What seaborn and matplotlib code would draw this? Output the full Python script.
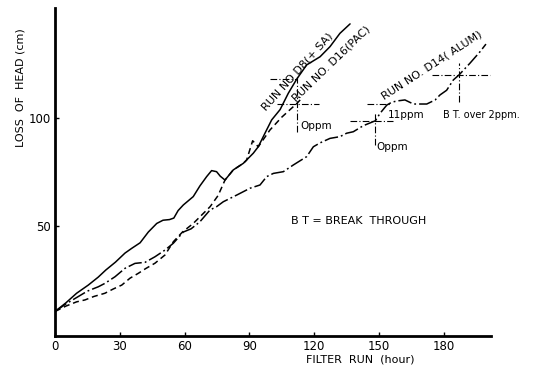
import matplotlib
matplotlib.use("Agg")
import matplotlib.pyplot as plt
import seaborn as sns
import pandas as pd

# ---- data ----
d8_hours = [0, 5, 10, 15.4, 20, 23.5, 28, 32.4, 35.5, 39.4, 43.2, 47.1, 50, 53, 55, 57,
            59.4, 64, 67.1, 70.2, 72.5, 74.8, 76.5, 78.7, 82.5, 87.2, 91.8, 94.1, 97.2,
            100.3, 104.2, 108, 111.9, 116.5, 122.7, 127.3, 131.9, 136.6]
d8_loss = [10, 14, 18.5, 22.3, 26, 29.3, 33, 37.2, 39.4, 42, 47, 51, 52.5, 52.8, 53.5, 57,
           59.6, 63.5, 68.5, 72.8, 75.6, 75.1, 73, 71.2, 75.9, 79, 83.7, 86.7, 93,
           99.2, 104, 111.6, 118.2, 124.8, 128.6, 133.3, 139.5, 143.9]

d16_hours = [0, 5, 10, 13.9, 18, 23.1, 27, 30.9, 34.7, 38.6, 42, 46.3, 50.9, 54.8, 59, 64,
             68, 71.8, 75.5, 78.7, 82.5, 87.2, 88.7, 91.5, 94.1, 99.5, 105, 112, 113.5]
d16_loss = [10, 12.5, 14.5, 15.4, 17, 18.5, 20.5, 22.3, 25.5, 27.8, 30, 32.5, 36.3, 42.5, 47, 51,
            55, 58.8, 64, 71.2, 75.9, 79, 80.5, 89.5, 86.7, 94.5, 100.5, 106.9, 108.5]

d14_hours = [0, 5, 10, 15, 20, 23.1, 27.8, 32.4, 37, 41.7, 46.3, 50.9, 54.8, 59.4, 63, 67.1,
             71.8, 74.8, 77.9, 84.1, 90.3, 94.9, 98, 101.1, 105.7, 110.3, 116.5, 119.6,
             122.7, 127.3, 131.9, 135, 138.1, 142.7, 148.3, 150.5, 153.6, 156, 158.9, 162,
             165.9, 172.1, 176, 178.2, 181.3, 184.4, 187, 192.1, 196.8, 199.5]
d14_loss = [10, 13.5, 16.5, 19.5, 21.5, 23.1, 26.2, 30.1, 32.4, 32.9, 35.5, 38.6, 41.8, 47, 48.5, 51.8,
            57.3, 58.8, 61.1, 64.2, 67.4, 68.9, 72.8, 74.3, 75.1, 78.2, 82.1, 86.7,
            88.5, 90.6, 91.4, 93, 93.7, 96.5, 98.8, 102.3, 106.1, 107.5, 108.1, 108.5,
            106.6, 106.6, 108.5, 110.8, 113, 117.8, 120.1, 125.6, 131, 134.5]

x_ticks = [0, 30, 60, 90, 120, 150, 180]
y_ticks = [50, 100]

sns.set_theme(style="white")
plt.rcParams['font.family'] = ['DejaVu Sans']
plt.rcParams['text.color'] = 'black'
plt.rcParams['xtick.color'] = 'black'
plt.rcParams['ytick.color'] = 'black'
plt.rcParams['axes.labelcolor'] = 'black'

fig = plt.figure(figsize=(5.33, 3.66), dpi=100)
ax = fig.add_axes([55/533, 30/366, 435.7/533, 328/366])

df8 = pd.DataFrame({"hour": d8_hours, "loss": d8_loss})
df16 = pd.DataFrame({"hour": d16_hours, "loss": d16_loss})
df14 = pd.DataFrame({"hour": d14_hours, "loss": d14_loss})

sns.lineplot(data=df8, x="hour", y="loss", ax=ax, color="black", lw=1.1,
             estimator=None, sort=False)
sns.lineplot(data=df16, x="hour", y="loss", ax=ax, color="black", lw=1.1,
             estimator=None, sort=False)
sns.lineplot(data=df14, x="hour", y="loss", ax=ax, color="black", lw=1.1,
             estimator=None, sort=False)
lines = ax.get_lines()
lines[1].set_dashes([4, 2.5])
lines[2].set_dashes([9, 2, 1.2, 2])

# break-through crosshairs
ch = dict(color="black", lw=0.8, dashes=[6, 2, 1, 2])
ax.plot([99.5, 112], [118.2, 118.2], **ch)
ax.plot([103, 122], [106.8, 106.8], **ch)
ax.plot([112, 112], [93.7, 120], **ch)
ax.plot([136.6, 156.5], [98.6, 98.6], **ch)
ax.plot([148.3, 148.3], [87.5, 103], **ch)
ax.plot([144.3, 155.1], [106.5, 106.5], **ch)
ax.plot([174.5, 201.5], [120.1, 120.1], **ch)
ax.plot([187, 187], [107.7, 125.6], **ch)

fs = 8
ax.text(112.3, 121.6, "RUN NO D8(+ SA)", rotation=48, ha="center", va="center", fontsize=fs)
ax.text(127.7, 125.6, "RUN NO. D16(PAC)", rotation=44, ha="center", va="center", fontsize=fs)
ax.text(174.4, 124.8, "RUN NO. D14( ALUM)", rotation=33, ha="center", va="center", fontsize=fs)
ax.text(113.4, 96.5, "Oppm", ha="left", va="center", fontsize=7.5)
ax.text(154.2, 101.5, "11ppm", ha="left", va="center", fontsize=7.5)
ax.text(148.9, 86.7, "Oppm", ha="left", va="center", fontsize=7.5)
ax.text(179.8, 101.5, "B T. over 2ppm.", ha="left", va="center", fontsize=7, clip_on=False)
ax.text(109.4, 52.1, "B T = BREAK  THROUGH", ha="left", va="center", fontsize=8)

ax.set_xlim(0, 201.7)
ax.set_ylim(-1.4, 151.3)
ax.set_xticks(x_ticks)
ax.set_xticklabels([str(t) for t in x_ticks], fontsize=8.5)
ax.set_yticks(y_ticks)
ax.set_yticklabels([str(t) for t in y_ticks], fontsize=8.5)
ax.tick_params(axis="both", direction="in", length=3, width=1, color="black", pad=3,
               left=True, bottom=True, labelcolor="black")
ax.set_xlabel("")
ax.set_ylabel("")
ax.text(-0.08, 0.756, "LOSS  OF  HEAD (cm)", rotation=90, transform=ax.transAxes,
        ha="center", va="center", fontsize=8)
ax.text(0.701, -0.073, "FILTER  RUN  (hour)", transform=ax.transAxes,
        ha="center", va="center", fontsize=8)

for s in ["top", "right"]:
    ax.spines[s].set_visible(False)
for s in ["left", "bottom"]:
    ax.spines[s].set_color("black")
    ax.spines[s].set_linewidth(2)
ax.grid(False)

fig.savefig("out.png", dpi=100)
